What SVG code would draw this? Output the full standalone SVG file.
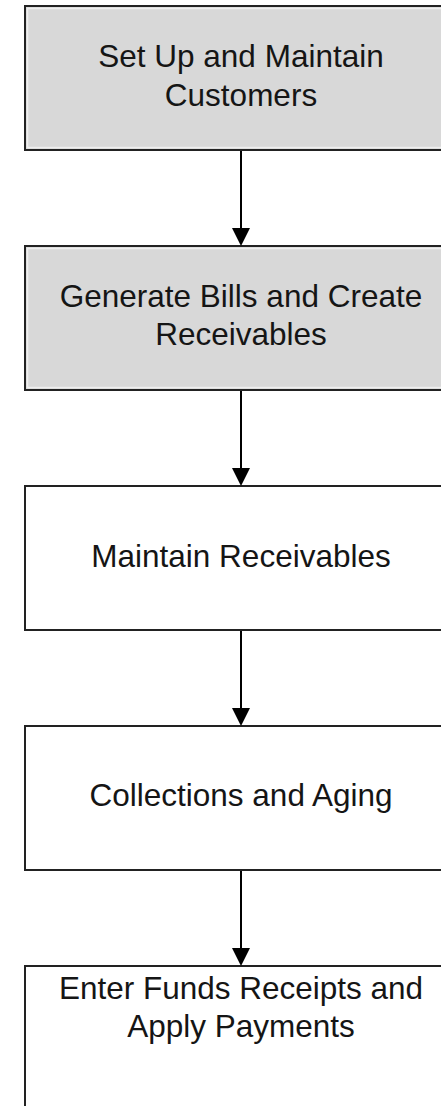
<svg xmlns="http://www.w3.org/2000/svg" width="441" height="1106" viewBox="0 0 441 1106">
<style>
.box{stroke:#222;stroke-width:2}
.gray{fill:#d8d8d8}
.white{fill:#ffffff}
.hl{fill:none;stroke:#efefef;stroke-width:1.5}
.lbl{font-family:"Liberation Sans",Arial,sans-serif;font-size:31.5px;fill:#151515;text-anchor:middle}
.conn{stroke:#000;stroke-width:2;fill:none}
.head{fill:#000}
</style>
<defs>
<polygon id="ah" points="-9,-18 9,-18 0,0"/>
</defs>
<rect x="0" y="0" width="441" height="1106" fill="#ffffff"/>
<g id="n1">
<rect class="box gray" x="25" y="6" width="432" height="144"/>
<rect class="hl" x="27.5" y="8.5" width="427" height="139"/>
<text class="lbl" x="241" y="67">Set Up and Maintain</text>
<text class="lbl" x="241" y="106">Customers</text>
</g>
<g id="n2">
<rect class="box gray" x="25" y="246" width="432" height="144"/>
<rect class="hl" x="27.5" y="248.5" width="427" height="139"/>
<text class="lbl" x="241" y="307">Generate Bills and Create</text>
<text class="lbl" x="241" y="345">Receivables</text>
</g>
<g id="n3">
<rect class="box white" x="25" y="486" width="432" height="144"/>
<text class="lbl" x="241" y="567">Maintain Receivables</text>
</g>
<g id="n4">
<rect class="box white" x="25" y="726" width="432" height="144"/>
<text class="lbl" x="241" y="806">Collections and Aging</text>
</g>
<g id="n5">
<rect class="box white" x="25" y="966" width="432" height="160"/>
<text class="lbl" x="241" y="999">Enter Funds Receipts and</text>
<text class="lbl" x="241" y="1037">Apply Payments</text>
</g>
<g id="connectors">
<line class="conn" x1="241" y1="151" x2="241" y2="230"/>
<use href="#ah" class="head" x="241" y="246"/>
<line class="conn" x1="241" y1="391" x2="241" y2="470"/>
<use href="#ah" class="head" x="241" y="486"/>
<line class="conn" x1="241" y1="631" x2="241" y2="710"/>
<use href="#ah" class="head" x="241" y="726"/>
<line class="conn" x1="241" y1="871" x2="241" y2="950"/>
<use href="#ah" class="head" x="241" y="966"/>
</g>
</svg>
